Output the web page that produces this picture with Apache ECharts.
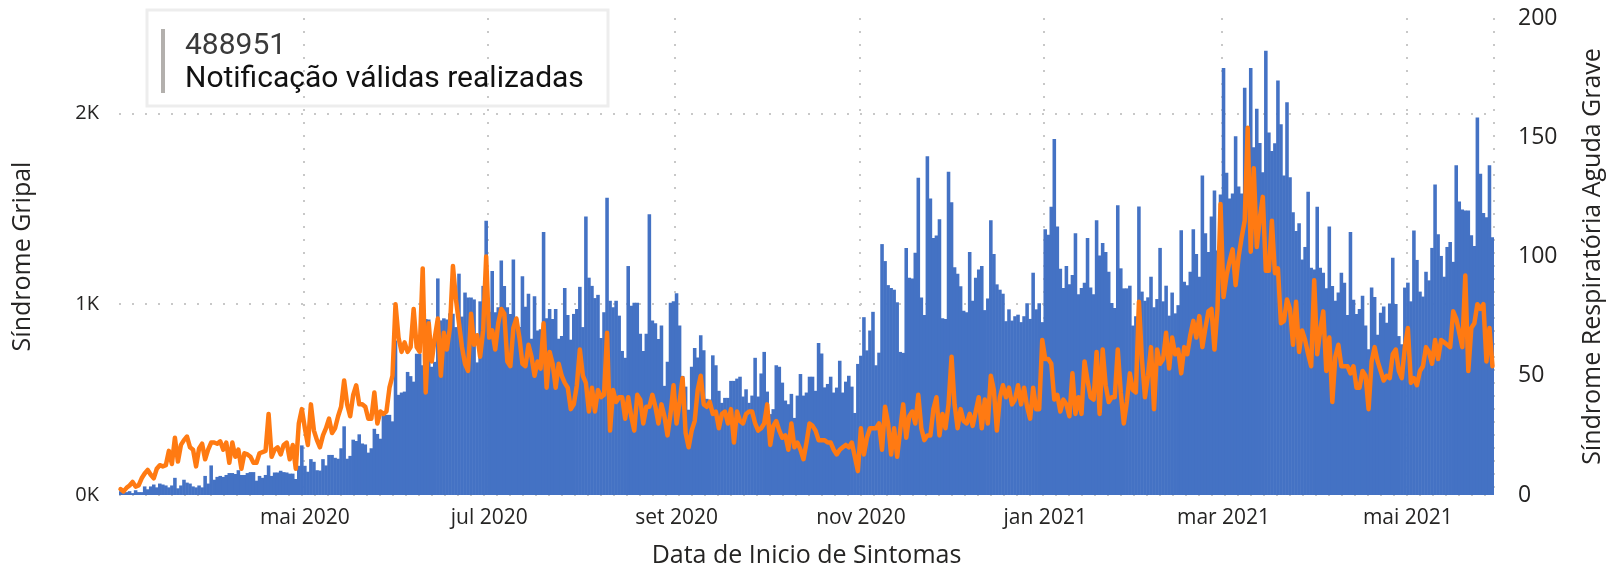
<!DOCTYPE html>
<html><head><meta charset="utf-8">
<script src="https://cdn.jsdelivr.net/npm/echarts@6/dist/echarts.min.js"></script>
<style>html,body{margin:0;padding:0;background:#fff}#c{width:1616px;height:573px}</style>
</head><body><div id="c"></div>
<script>
// ---- data ----
const startDate = '2020-03-01';
const tickDates = ['2020-05-01','2020-07-01','2020-09-01','2020-11-01','2021-01-01','2021-03-01','2021-05-01'];
const tickLabels = ['mai 2020','jul 2020','set 2020','nov 2020','jan 2021','mar 2021','mai 2021'];
const totalNotificacoes = '488951';
const cardLabel = 'Notificação válidas realizadas';

// Síndrome Gripal (daily notifications, left axis)
const sindromeGripal = [
20,10,15,20,10,25,15,15,45,30,
45,55,40,60,55,50,40,50,90,35,
50,80,65,60,45,40,50,40,100,60,
155,80,95,100,95,105,115,115,110,130,
105,105,115,120,120,75,100,90,105,155,
100,
118,118,127,120,118,112,112,84,153,260,
153,122,188,174,130,128,188,155,210,210,
195,190,245,360,190,205,290,283,318,270,
265,222,245,347,320,295,418,420,420,386,
810,525,537,542,645,623,594,740,740,680,
923,920,672,698,1135,915,926,920,952,950,
880,1160,935,1061,1035,1035,1025,695,1015,1096,
1437,960,1174,958,984,1229,1096,984,949,1234,
923,880,1146,986,1055,819,1042,862,869,1378,
926,975,923,975,819,833,1085,944,814,949,
975,1091,880,1459,1139,1096,1032,1049,823,958,
1558,1018,984,1018,940,755,719,1200,992,1007,
1007,845,755,845,1471,914,900,817,888,572,
698,1007,1015,1058,888,624,568,447,672,771,
720,837,758,504,500,732,680,546,483,509,
509,598,598,610,620,516,554,483,521,719,
516,637,750,542,424,450,680,672,589,495,
476,530,404,521,634,521,537,620,620,546,
797,741,564,582,620,537,563,703,537,594,
625,568,430,687,730,932,758,862,960,680,
746,1315,1226,1100,1085,1076,1010,750,745,1295,
1139,1135,1269,1663,1035,944,1776,1554,1347,1360,
1445,926,923,1694,1534,1194,1160,1094,966,958,
1274,1018,1139,1182,1200,969,1030,1440,1263,1104,
1076,1055,911,973,914,937,945,906,937,1005,
923,1165,973,1005,906,1393,1364,1511,1866,1407,
1186,1085,1200,1104,1153,1372,1052,1085,1113,1347,
1087,1052,1440,1255,1321,1274,1170,1006,980,1519,
1188,1083,1083,1097,888,937,1512,1066,1018,1036,
1144,984,1027,1295,1015,1097,940,1061,952,995,
1388,1118,1099,1170,1393,1263,1144,1675,1372,1274,
1459,1596,1281,1575,2238,1689,1554,1580,1880,1617,
1580,2134,1822,2238,1822,2025,1845,1691,2328,1900,
1803,1843,2172,1943,1675,2059,1666,1482,1384,1424,
1234,1300,1589,1191,1182,1511,1191,1165,1083,1407,
1096,1018,1061,1165,1113,944,1379,1023,949,975,
1044,888,764,1087,1038,840,955,988,903,1004,
1243,1001,833,790,1087,1113,1015,1386,1232,1066,
1040,1170,1125,1295,1627,1367,1253,1144,1300,1326,
1222,1728,1538,1496,1491,1491,1362,1305,1978,1684,
1478,1456,1728,1351
];

// Síndrome Respiratória Aguda Grave (daily, right axis)
const srag = [
2.5,1.5,3,4,5.5,3.5,4,7,9,10.5,
8.5,7,11,12.5,12,12.5,18.5,13,24,14,
21,23,24.5,20,19,12,19.5,21.5,15,19,
22,22,21.5,22.5,19,22,13.5,22,16,19,
11,17.5,17,16,13.5,13.5,17.5,18,18.5,34,
16,
19,20,17,21,22,15,21,11,30,36,
28,21,38,27,23,20,25,28,32,26,
28,33,37,48,38,33,42,46,38,38,
37,32,32,43,30,35,34,35,45,50,
80,66,60,64,60,62,78,62,60,95,
43,72,56,66,74,50,68,61,70,96,
82,72,62,55,52,76,63,67,58,69,
100,66,69,61,72,78,76,56,54,70,
74,66,55,54,63,58,50,56,53,72,
45,60,55,45,55,50,47,45,36,38,
46,61,50,47,35,45,35,44,41,42,
68,27,44,39,41,41,32,41,33,27,
42,40,30,37,37,42,37,30,38,33,
25,34,46,30,39,49,26,20,27,31,
44,50,38,37,39,34,35,28,34,35,
30,36,22,35,31,30,34,35,35,30,
27,28,30,38,21,29,31,27,24,25,
19,30,20,22,19,15,22,30,29,27,
23,23,23,22,22,19,17,19,20,21,
20,22,16,10,28,17,24,28,28,28,
30,19,37,30,17,28,16,27,38,24,
33,35,30,42,28,23,25,25,36,41,
25,34,28,38,58,38,28,36,31,30,
34,29,35,41,28,40,30,50,44,27,
41,46,41,45,38,40,46,38,45,37,
32,45,36,36,65,57,57,55,40,42,
35,40,38,33,51,34,41,34,56,48,
41,40,60,34,61,46,39,41,41,61,
43,30,39,51,44,43,81,57,41,50,
62,36,61,55,57,68,53,66,59,61,
51,62,59,67,73,66,75,62,70,77,
78,61,78,122,83,92,98,103,88,100,
108,115,154,102,137,104,116,125,94,94,
115,93,95,72,73,82,78,63,81,60,
69,65,59,54,90,59,69,77,52,66,
39,58,63,54,54,54,51,54,45,45,
52,50,36,56,62,56,52,48,50,49,
59,61,52,49,62,70,47,49,46,52,
54,62,60,55,65,57,65,64,63,62,
77,74,68,62,92,52,70,72,80,78,
80,56,70,54
];

// ---- categories (one per day) ----
const dates = [];
const t0 = Date.parse(startDate + 'T00:00:00Z');
for (let i = 0; i < sindromeGripal.length; i++) {
  dates.push(new Date(t0 + i * 86400000).toISOString().slice(0, 10));
}

const FONT = '"Segoe UI", "Open Sans", "Noto Sans", sans-serif';
const TXT = '#252423';
const GRID = '#c8c8c8';
const isTick = (i, v) => tickDates.indexOf(v) >= 0;

const chart = echarts.init(document.getElementById('c'), null, {renderer: 'canvas'});
chart.setOption({
  animation: false,
  backgroundColor: '#ffffff',
  textStyle: {fontFamily: FONT},
  grid: {left: 119, right: 122, top: 18, bottom: 74, containLabel: false},
  xAxis: {
    type: 'category', data: dates, boundaryGap: true,
    axisLine: {show: false}, axisTick: {show: false},
    axisLabel: {
      interval: isTick, margin: 13, fontSize: 21, color: TXT, fontFamily: FONT,
      formatter: v => tickLabels[tickDates.indexOf(v)] || ''
    },
    splitLine: {show: true, interval: isTick, lineStyle: {color: GRID, type: [2, 11], width: 2}},
    name: 'Data de Inicio de Sintomas', nameLocation: 'middle', nameGap: 48,
    nameTextStyle: {fontSize: 25, color: TXT, fontFamily: FONT}
  },
  yAxis: [
    {
      type: 'value', position: 'left', min: 0, max: 2500, interval: 1000,
      axisLine: {show: false}, axisTick: {show: false},
      axisLabel: {margin: 20, fontSize: 20, color: TXT, fontFamily: FONT, showMaxLabel: false,
        formatter: v => (v % 1000 === 0 ? (v / 1000) + 'K' : '')},
      splitLine: {show: true, showMaxLine: false, lineStyle: {color: GRID, type: [2, 11], width: 2}},
      name: 'Síndrome Gripal', nameLocation: 'middle', nameGap: 84, nameRotate: 90,
      nameTextStyle: {fontSize: 25, color: TXT, fontFamily: FONT}
    },
    {
      type: 'value', position: 'right', min: 0, max: 200, interval: 50,
      axisLine: {show: false}, axisTick: {show: false},
      axisLabel: {margin: 24, fontSize: 23, color: TXT, fontFamily: FONT},
      splitLine: {show: false},
      name: 'Síndrome Respiratória Aguda Grave', nameLocation: 'middle', nameGap: 86, nameRotate: 90,
      nameTextStyle: {fontSize: 25, color: TXT, fontFamily: FONT}
    }
  ],
  series: [
    {
      name: 'Síndrome Gripal', type: 'bar', data: sindromeGripal, yAxisIndex: 0,
      barWidth: '118%', barGap: '-100%',
      itemStyle: {color: '#4472C4'}
    },
    {
      name: 'Síndrome Respiratória Aguda Grave', type: 'line', data: srag, yAxisIndex: 1,
      symbol: 'none', z: 5,
      lineStyle: {color: '#FF7A12', width: 4.5, join: 'round', cap: 'round'}
    }
  ],
  graphic: [
    {type: 'rect', x: 147, y: 10, shape: {width: 461, height: 96},
      style: {fill: 'rgba(0,0,0,0)', stroke: '#EDEDED', lineWidth: 3}, z: 10},
    {type: 'rect', x: 161, y: 29, shape: {width: 4, height: 64},
      style: {fill: '#B3B0AD'}, z: 10},
    {type: 'text', x: 185, y: 46, z: 10,
      style: {text: totalNotificacoes, fontSize: 30, fontWeight: 'normal', fontFamily: 'Roboto, sans-serif', fill: '#3a3a3a', verticalAlign: 'middle'}},
    {type: 'text', x: 185, y: 79, z: 10,
      style: {text: cardLabel, fontSize: 30, fontWeight: 'normal', fontFamily: 'Roboto, sans-serif', fill: '#111111', verticalAlign: 'middle'}}
  ]
});
</script></body></html>
